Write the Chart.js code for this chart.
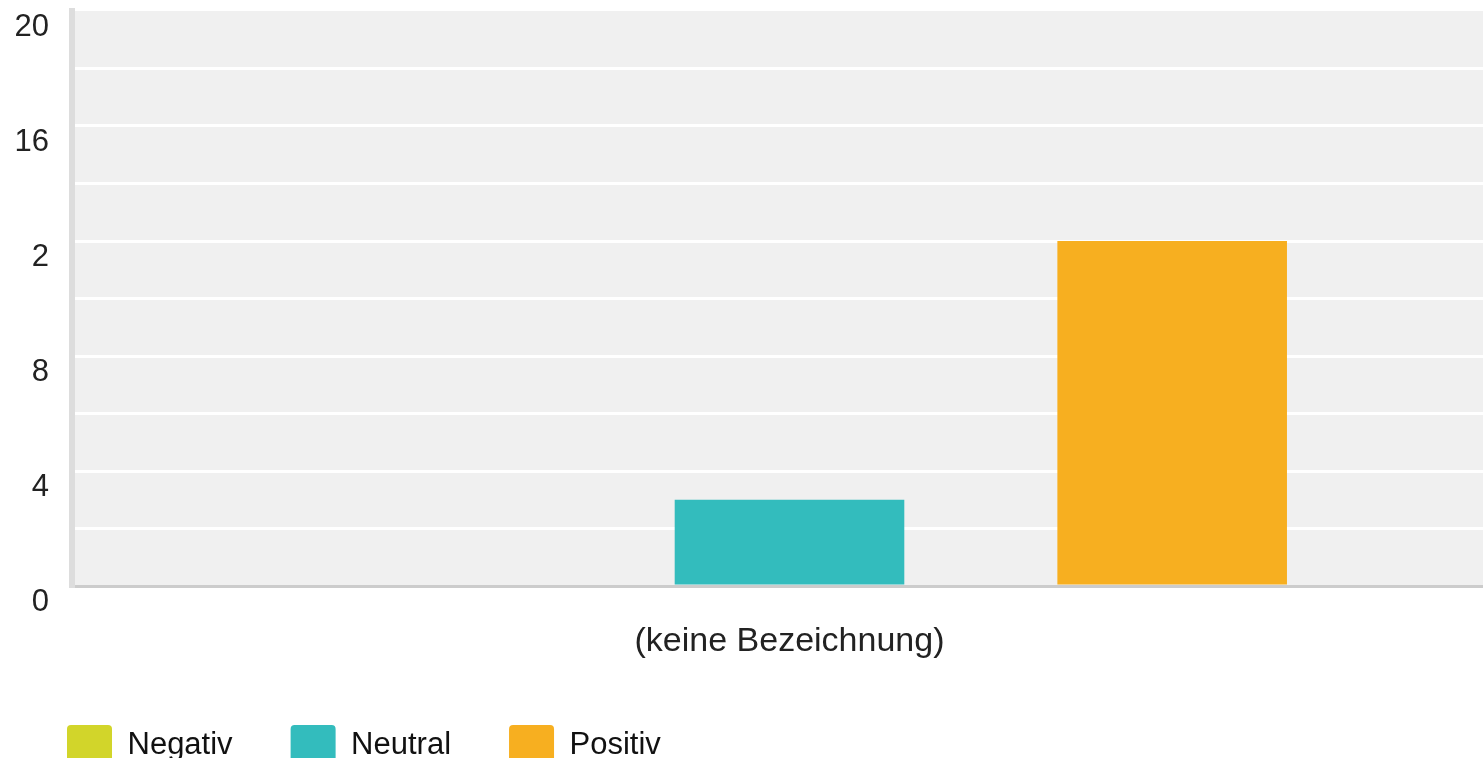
<!DOCTYPE html>
<html>
<head>
<meta charset="utf-8">
<title>Bewertung</title>
<script src="https://cdn.jsdelivr.net/npm/chart.js@4.4.1/dist/chart.umd.min.js"></script>
<style>
    html, body { margin: 0; padding: 0; background: #fff; overflow: hidden; }
</style>
</head>
<body>
<canvas id="bar-chart" width="1507" height="775"></canvas>
<script>
// Chart data
var categories = ["(keine Bezeichnung)"];
var seriesNames = ["Negativ", "Neutral", "Positiv"];
var negativData = [0];
var neutralData = [3];
var positivData = [12];
var tickValues = [0, 4, 8, 12, 16, 20];
var tickLabels = ["0", "4", "8", "2", "16", "20"];

var fontFamily = "Arial, 'Liberation Sans', sans-serif";

// paint the plot area grey
var plotBackground = {
    id: "plotBackground",
    beforeDraw: function(chart) {
        var a = chart.chartArea;
        var ctx = chart.ctx;
        ctx.save();
        ctx.fillStyle = "#f0f0f0";
        ctx.fillRect(a.left, a.top, a.right - a.left, a.bottom - a.top);
        ctx.restore();
    }
};

var chartData = {
    labels: categories,
    datasets: [{
        label: seriesNames[0],
        data: negativData,
        backgroundColor: "#d2d52a",
        borderColor: "transparent",
        borderRadius: 0
    }, {
        label: seriesNames[1],
        data: neutralData,
        backgroundColor: "#33bcbd",
        borderColor: "transparent",
        borderRadius: 0
    }, {
        label: seriesNames[2],
        data: positivData,
        backgroundColor: "#f7af20",
        borderColor: "transparent",
        borderRadius: 0
    }]
};

var config = {
    type: "bar",
    data: chartData,
    plugins: [plotBackground],
    options: {
        responsive: false,
        animation: false,
        categoryPercentage: 0.8,
        barPercentage: 0.6,
        layout: {
            padding: { left: 9, top: 11, right: 0, bottom: 0 }
        },
        plugins: {
            tooltip: { enabled: false },
            legend: {
                position: "bottom",
                align: "start",
                labels: {
                    boxWidth: 45,
                    boxHeight: 40,
                    padding: 58,
                    color: "#111",
                    useBorderRadius: true,
                    borderRadius: 4,
                    font: { family: fontFamily, size: 31 }
                }
            }
        },
        scales: {
            x: {
                afterFit: function(scale) { scale.height = 81; },
                grid: { display: false, drawTicks: false },
                border: { color: "#cccccc", width: 3 },
                ticks: {
                    padding: 35,
                    color: "#222",
                    font: { family: fontFamily, size: 34 }
                }
            },
            y: {
                min: 0,
                max: 20,
                afterFit: function(scale) {
                    scale.width = 63;
                    scale.paddingTop = 0;
                    scale.paddingBottom = 0;
                },
                grid: {
                    drawTicks: false,
                    lineWidth: 3,
                    color: function(c) {
                        return c.tick && c.tick.value === 20 ? "rgba(0,0,0,0)" : "#ffffff";
                    }
                },
                border: { color: "#dddddd", width: 6 },
                ticks: {
                    stepSize: 2,
                    autoSkip: false,
                    padding: 23,
                    labelOffset: 16,
                    color: "#222",
                    font: { family: fontFamily, size: 31, lineHeight: 0.7 },
                    callback: function(value) {
                        var i = tickValues.indexOf(value);
                        return i >= 0 ? tickLabels[i] : "";
                    }
                }
            }
        }
    }
};

// Create the chart
var barChart = new Chart(document.getElementById("bar-chart"), config);
</script>
</body>
</html>
